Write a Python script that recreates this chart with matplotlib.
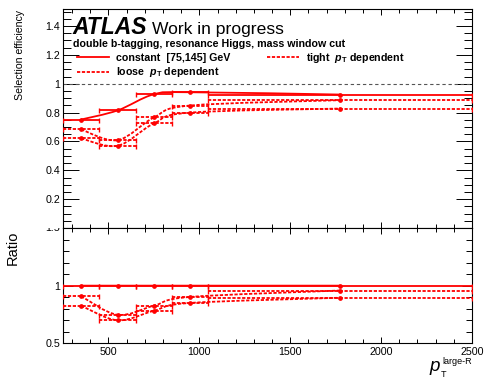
import numpy as np
import matplotlib
matplotlib.use("Agg")
import matplotlib.pyplot as plt
from matplotlib.path import Path
from matplotlib.patches import PathPatch
from matplotlib.lines import Line2D
from matplotlib.ticker import MultipleLocator, FixedLocator, FuncFormatter, NullFormatter
from matplotlib.transforms import Bbox, TransformedBbox

plt.rcParams["font.family"] = ["Liberation Sans", "DejaVu Sans"]
plt.rcParams["mathtext.fontset"] = "custom"
plt.rcParams["mathtext.rm"] = "Liberation Sans:bold"
plt.rcParams["mathtext.it"] = "Liberation Sans:italic:bold"
plt.rcParams["mathtext.bf"] = "Liberation Sans:bold"

# --- data -----------------------------------------------------------------
bin_edges = [250, 450, 650, 850, 1050, 2500]
bin_centers = [350, 550, 750, 950, 1775]
eff_constant = [0.752, 0.815, 0.927, 0.941, 0.925]
eff_loose = [0.683, 0.609, 0.766, 0.849, 0.886]
eff_tight = [0.621, 0.570, 0.725, 0.800, 0.828]

series_labels = ["constant  [75,145] GeV",
                 "loose  $p_{\\mathrm{T}}$ dependent",
                 "tight  $p_{\\mathrm{T}}$ dependent"]
eff_ticks = [0.2, 0.4, 0.6, 0.8, 1.0, 1.2, 1.4]
ratio_ticks = [0.5, 1.0]
x_ticks = [500, 1000, 1500, 2000, 2500]

RED = "#ff0000"
DASH = (0, (1.8, 0.9))

W, H = 485, 382
fig = plt.figure(figsize=(W / 100, H / 100), dpi=100)

def fx(px):
    return px / W

def fy(py):
    return 1 - py / H

ax1 = fig.add_axes([fx(63), fy(228), fx(472) - fx(63), fy(9.3) - fy(228)])
ax2 = fig.add_axes([fx(63), fy(343.3), fx(472) - fx(63), fy(228) - fy(343.3)])


def smooth_path(x, y):
    """Catmull-Rom curve through the points, expressed as cubic Bezier pieces."""
    x = np.asarray(x, float)
    y = np.asarray(y, float)
    n = len(x)
    verts = [(x[0], y[0])]
    codes = [Path.MOVETO]
    for i in range(n - 1):
        xa, ya = (x[i - 1], y[i - 1]) if i > 0 else (x[i], y[i])
        xb, yb = (x[i + 2], y[i + 2]) if i + 2 < n else (x[i + 1], y[i + 1])
        c1 = (x[i] + (x[i + 1] - xa) / 6, y[i] + (y[i + 1] - ya) / 6)
        c2 = (x[i + 1] - (xb - x[i]) / 6, y[i + 1] - (yb - y[i]) / 6)
        verts += [c1, c2, (x[i + 1], y[i + 1])]
        codes += [Path.CURVE4] * 3
    return Path(verts, codes)


centers = np.array(bin_centers, float)
edges = np.array(bin_edges, float)
xerr = [centers - edges[:-1], edges[1:] - centers]


def draw_series(ax, values, ls):
    values = np.asarray(values, float)
    ax.add_patch(PathPatch(smooth_path(centers, values), fill=False,
                           edgecolor=RED, lw=1.3, linestyle=ls, zorder=3))
    _, caps, bars = ax.errorbar(centers, values, xerr=xerr, fmt="o", ms=2.4,
                                color=RED, ecolor=RED, elinewidth=1.3,
                                capsize=1.8, capthick=1.0, zorder=4)
    for b in bars:
        b.set_linestyle(ls)


const = np.array(eff_constant)
loose = np.array(eff_loose)
tight = np.array(eff_tight)

# --- efficiency panel ------------------------------------------------------
draw_series(ax1, const, "-")
draw_series(ax1, loose, DASH)
draw_series(ax1, tight, DASH)
ax1.axhline(1.0, color="#555555", lw=0.8, ls=(0, (3, 2.5)), zorder=2)

ax1.set_xlim(250, 2500)
ax1.set_ylim(0, 1.516)

# --- ratio panel -----------------------------------------------------------
draw_series(ax2, const / const, "-")
draw_series(ax2, loose / const, DASH)
draw_series(ax2, tight / const, DASH)
ax2.set_xlim(250, 2500)
ax2.set_ylim(0.5, 1.5)

fmt = FuncFormatter(lambda v, p: ("%g" % round(v, 3)))
for ax in (ax1, ax2):
    ax.xaxis.set_major_locator(FixedLocator(x_ticks))
    ax.xaxis.set_minor_locator(MultipleLocator(100))
    for s in ax.spines.values():
        s.set_linewidth(0.8)
    ax.tick_params(which="both", direction="in", top=True, right=True,
                   width=0.7, labelsize=7.7, colors="black")
    ax.tick_params(axis="x", which="major", length=4.3)
    ax.tick_params(axis="x", which="minor", length=2.9)
    ax.tick_params(axis="y", pad=2)
    ax.tick_params(axis="x", pad=3)

ax1.yaxis.set_major_locator(FixedLocator(eff_ticks))
ax1.yaxis.set_minor_locator(MultipleLocator(0.05))
ax1.yaxis.set_major_formatter(fmt)
ax1.tick_params(axis="y", which="major", length=11.5)
ax1.tick_params(axis="y", which="minor", length=5.8)
ax1.xaxis.set_major_formatter(NullFormatter())

ax2.yaxis.set_major_locator(FixedLocator(ratio_ticks + [1.5]))
ax2.yaxis.set_minor_locator(MultipleLocator(0.1))
ax2.yaxis.set_major_formatter(FuncFormatter(lambda v, p: "" if v > 1.4 else "%g" % v))
ax2.xaxis.set_major_formatter(FuncFormatter(lambda v, p: "%d" % v))
ax2.tick_params(axis="y", which="major", length=7.5)
ax2.tick_params(axis="y", which="minor", length=4.3)

# "1.5" on the ratio axis, partly hidden under the upper panel
t15 = ax2.text(-0.0075, 1.5, "1.5", transform=ax2.get_yaxis_transform(),
               ha="right", va="center", fontsize=7.7, clip_on=True)
t15.set_clip_box(TransformedBbox(Bbox([[0, 0], [1, fy(228.3)]]), fig.transFigure))

# --- texts -----------------------------------------------------------------
fig.text(fx(72), fy(34), "ATLAS", fontsize=16.5, weight="bold", style="italic",
         va="baseline")
fig.text(fx(152), fy(34), "Work in progress", fontsize=12.6, va="baseline")
fig.text(fx(73), fy(47), "double b-tagging, resonance Higgs, mass window cut",
         fontsize=7.65, weight="bold", va="baseline")

handles = [Line2D([], [], color=RED, lw=1.3, ls="-"),
           Line2D([], [], color=RED, lw=1.3, ls=DASH),
           Line2D([], [], color=RED, lw=1.3, ls=DASH)]
leg = ax1.legend(handles, series_labels, ncol=2, loc="upper left",
                 bbox_to_anchor=(fx(77), fy(51)), bbox_transform=fig.transFigure,
                 frameon=False, fontsize=7.65, handlelength=3.0, handletextpad=0.65,
                 labelspacing=0.22, columnspacing=3.45, borderpad=0, borderaxespad=0)
for t in leg.get_texts():
    t.set_fontweight("bold")

fig.text(fx(20), fy(9.5), "Selection efficiency", rotation=90, ha="center",
         va="top", fontsize=7.6)
fig.text(fx(13), fy(231), "Ratio", rotation=90, ha="center", va="top", fontsize=10.5)

# axis title p_T^{large-R}
fig.text(fx(440), fy(371), "p", fontsize=13.5, style="italic", ha="right",
         va="baseline")
fig.text(fx(441), fy(377), "T", fontsize=6.5, ha="left", va="baseline")
fig.text(fx(472), fy(363.5), "large-R", fontsize=6.5, ha="right", va="baseline")

fig.savefig("out.png", dpi=100)
